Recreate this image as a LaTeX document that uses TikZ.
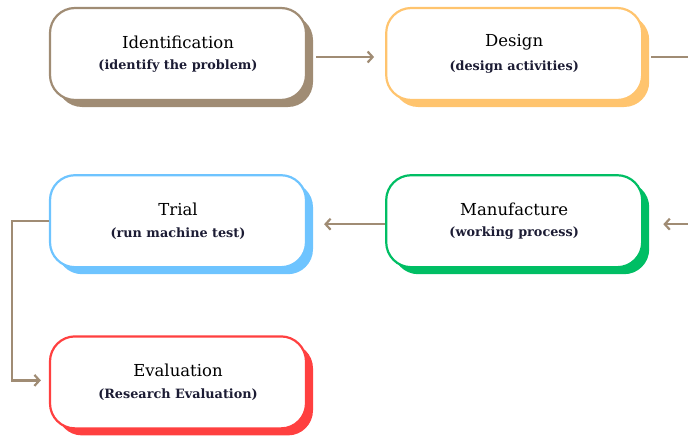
\documentclass[tikz,border=0pt]{standalone}
\usepackage{fontspec}
\setmainfont{DejaVu Serif}
\usetikzlibrary{positioning,shadows,arrows.meta}
\definecolor{linkbrown}{RGB}{160,140,116}
\definecolor{idcol}{RGB}{160,140,116}
\definecolor{descol}{RGB}{255,196,110}
\definecolor{trialcol}{RGB}{110,196,255}
\definecolor{mancol}{RGB}{0,190,100}
\definecolor{evalcol}{RGB}{255,64,64}
\definecolor{notecol}{RGB}{28,28,52}
\newcommand{\boxtitle}[1]{{\fontsize{16.5}{18}\selectfont #1}}
\newcommand{\boxnote}[1]{{\fontsize{12.8}{15}\selectfont\bfseries\color{notecol}#1}}

\begin{document}
\begin{tikzpicture}[
                x=1pt, y=1pt,
                node distance = 73pt and 78pt,
                B/.style = {rounded corners=25pt, draw=#1, line width=2.2pt, fill=white,
                            minimum width=256pt, minimum height=92pt, align=center,
                            general shadow={fill=#1, shadow xshift=7pt, shadow yshift=-7pt}},
                link/.style = {draw=linkbrown, line width=2.2pt},
                arr/.style = {link, -{Straight Barb[length=5pt,width=11pt]}}
                    ]
                \useasboundingbox (0,0) rectangle (688,-436);
                \clip (0,0) rectangle (688,-436);
                \node (id) [B=idcol] at (178,-54)
                    {\boxtitle{Identification}\\[9.5pt]\boxnote{(identify the problem)}};
                \node (des) [B=descol, right=of id]
                    {\boxtitle{Design}\\[9.5pt]\boxnote{(design activities)}};
                \node (man) [B=mancol, below=of des]
                    {\boxtitle{Manufacture}\\[9.5pt]\boxnote{(working process)}};
                \node (trial) [B=trialcol, below=of id]
                    {\boxtitle{Trial}\\[9.5pt]\boxnote{(run machine test)}};
                \node (eval) [B=evalcol, below=67pt of trial]
                    {\boxtitle{Evaluation}\\[9.5pt]\boxnote{(Research Evaluation)}};
                \draw[arr, shorten <=9pt, shorten >=11pt] ([yshift=-3pt]id.east) -- ([yshift=-3pt]des.west);
                \draw[arr, shorten <=8pt, shorten >=20pt] ([yshift=-3pt]des.east) -- ++(60,0) |- ([yshift=-3pt]man.east);
                \draw[arr, shorten >=17pt] ([yshift=-3pt]man.west) -- ([yshift=-3pt]trial.east);
                \draw[arr, shorten >=8pt] (trial.west) -- ++(-37,0) |- ([yshift=2pt]eval.west);
            \end{tikzpicture}
\end{document}
